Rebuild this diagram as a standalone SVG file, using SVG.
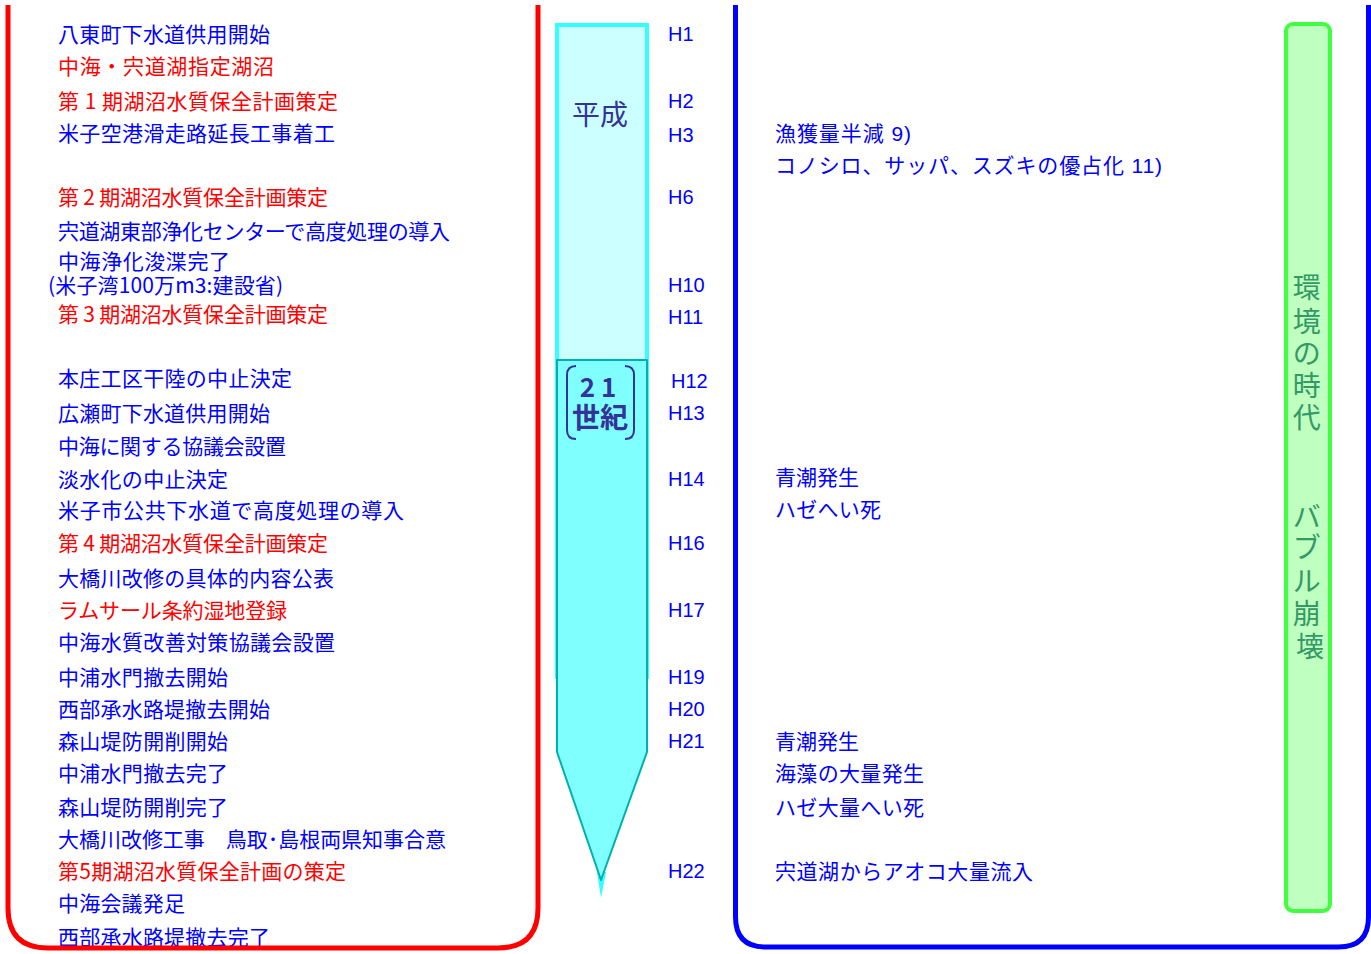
<svg xmlns="http://www.w3.org/2000/svg" width="1371" height="954" viewBox="0 0 1371 954">
<style>
  .l { font-family: "Noto Sans CJK JP", "Liberation Sans", sans-serif; font-size: 21px; }
  .r { font-family: "Liberation Sans", "Noto Sans CJK JP", sans-serif; font-size: 21px; fill: #0000ff; }
  .b { fill: #0000ff; }
  .red { fill: #ff0000; }
  .h { font-family: "Liberation Sans", Arial, sans-serif; font-size: 20px; fill: #0000ff; }
  .era { font-family: "Noto Sans CJK JP", sans-serif; fill: #333399; text-anchor: middle; }
  .vt { font-family: "Noto Sans CJK JP", sans-serif; font-size: 28px; fill: #339966; text-anchor: middle; }
  .frame { fill: none; stroke-width: 5; }
</style>
<rect width="1371" height="954" fill="#ffffff"/>

<g id="left-events">
  <text class="l b" x="58" y="42" textLength="212">八東町下水道供用開始</text>
  <text class="l red" x="58" y="74" textLength="216">中海・宍道湖指定湖沼</text>
  <text class="l red" x="58" y="109" textLength="280">第 1 期湖沼水質保全計画策定</text>
  <text class="l b" x="58" y="141" textLength="277">米子空港滑走路延長工事着工</text>
  <text class="l red" x="58" y="205" textLength="270">第 2 期湖沼水質保全計画策定</text>
  <text class="l b" x="58" y="239" textLength="392">宍道湖東部浄化センターで高度処理の導入</text>
  <text class="l b" x="58" y="269" textLength="172">中海浄化浚渫完了</text>
  <text class="l b" x="48" y="293" textLength="235">(米子湾100万m3:建設省)</text>
  <text class="l red" x="58" y="322" textLength="270">第 3 期湖沼水質保全計画策定</text>
  <text class="l b" x="58" y="386" textLength="234">本庄工区干陸の中止決定</text>
  <text class="l b" x="58" y="421" textLength="212">広瀬町下水道供用開始</text>
  <text class="l b" x="58" y="454" textLength="228">中海に関する協議会設置</text>
  <text class="l b" x="58" y="487" textLength="170">淡水化の中止決定</text>
  <text class="l b" x="58" y="518" textLength="346">米子市公共下水道で高度処理の導入</text>
  <text class="l red" x="58" y="551" textLength="270">第 4 期湖沼水質保全計画策定</text>
  <text class="l b" x="58" y="586" textLength="276">大橋川改修の具体的内容公表</text>
  <text class="l red" x="58" y="618" textLength="229">ラムサール条約湿地登録</text>
  <text class="l b" x="58" y="650" textLength="277">中海水質改善対策協議会設置</text>
  <text class="l b" x="58" y="685" textLength="170">中浦水門撤去開始</text>
  <text class="l b" x="58" y="717" textLength="212">西部承水路堤撤去開始</text>
  <text class="l b" x="58" y="749" textLength="170">森山堤防開削開始</text>
  <text class="l b" x="58" y="781" textLength="170">中浦水門撤去完了</text>
  <text class="l b" x="58" y="815" textLength="170">森山堤防開削完了</text>
  <text class="l b" x="58" y="847" textLength="388">大橋川改修工事　鳥取･島根両県知事合意</text>
  <text class="l red" x="58" y="879" textLength="288">第5期湖沼水質保全計画の策定</text>
  <text class="l b" x="58" y="911" textLength="127">中海会議発足</text>
  <text class="l b" x="58" y="945" textLength="212">西部承水路堤撤去完了</text>
</g>

<g id="left-frame">
  <path class="frame" stroke="#ff0000" d="M 8 5 L 8 908 Q 8 948 48 948 L 498 948 Q 538 948 538 908 L 538 5"/>
</g>

<g id="timeline-bar">
  <rect x="557" y="25" width="90" height="652" fill="#ccffff" stroke="#33ffff" stroke-width="4"/>
  <polygon points="597,872 606,872 601,898" fill="#33ffff"/>
  <polygon points="557,360 647,360 647,752 601,880 557,752" fill="#80ffff" stroke="#00b0b0" stroke-width="2" stroke-linejoin="round"/>
  <text class="era" x="600" y="125" font-size="28">平成</text>
  <path d="M 576 366 Q 567 366 567 375 L 567 430 Q 567 439 576 439 M 625 366 Q 634 366 634 375 L 634 430 Q 634 439 625 439" fill="none" stroke="#333399" stroke-width="2"/>
  <text class="era" x="598" y="397" font-size="26" font-weight="700">2 1</text>
  <text class="era" x="600" y="428" font-size="28" font-weight="700">世紀</text>
</g>

<g id="year-labels">
  <text class="h" x="668" y="41">H1</text>
  <text class="h" x="668" y="108">H2</text>
  <text class="h" x="668" y="142">H3</text>
  <text class="h" x="668" y="204">H6</text>
  <text class="h" x="668" y="292">H10</text>
  <text class="h" x="668" y="324">H11</text>
  <text class="h" x="671" y="388">H12</text>
  <text class="h" x="668" y="420">H13</text>
  <text class="h" x="668" y="486">H14</text>
  <text class="h" x="668" y="550">H16</text>
  <text class="h" x="668" y="617">H17</text>
  <text class="h" x="668" y="684">H19</text>
  <text class="h" x="668" y="716">H20</text>
  <text class="h" x="668" y="748">H21</text>
  <text class="h" x="668" y="878">H22</text>
</g>

<g id="right-events">
  <text class="r" x="775" y="141" textLength="136">漁獲量半減 9)</text>
  <text class="r" x="775" y="173" textLength="387">コノシロ、サッパ、スズキの優占化 11)</text>
  <text class="r" x="775" y="485" textLength="84">青潮発生</text>
  <text class="r" x="775" y="517" textLength="106">ハゼへい死</text>
  <text class="r" x="775" y="749" textLength="84">青潮発生</text>
  <text class="r" x="775" y="781" textLength="149">海藻の大量発生</text>
  <text class="r" x="775" y="815" textLength="149">ハゼ大量へい死</text>
  <text class="r" x="775" y="879" textLength="258">宍道湖からアオコ大量流入</text>
</g>

<g id="right-frame">
  <path class="frame" stroke="#0000ff" d="M 735.5 5 L 735.5 917 Q 735.5 947 765.5 947 L 1338.5 947 Q 1368.5 947 1368.5 917 L 1368.5 5"/>
</g>

<g id="era-band">
  <rect x="1286" y="24" width="44" height="887" rx="7" fill="#bfffbf" stroke="#40ff40" stroke-width="4"/>
  <text class="vt">
    <tspan x="1310" y="298">環</tspan>
    <tspan x="1310" y="332">境</tspan>
    <tspan x="1310" y="364">の</tspan>
    <tspan x="1310" y="396">時</tspan>
    <tspan x="1310" y="428">代</tspan>
    <tspan x="1310" y="527">バ</tspan>
    <tspan x="1310" y="558">ブ</tspan>
    <tspan x="1310" y="592">ル</tspan>
    <tspan x="1310" y="624">崩</tspan>
    <tspan x="1310" y="657">壊</tspan>
  </text>
</g>
</svg>
